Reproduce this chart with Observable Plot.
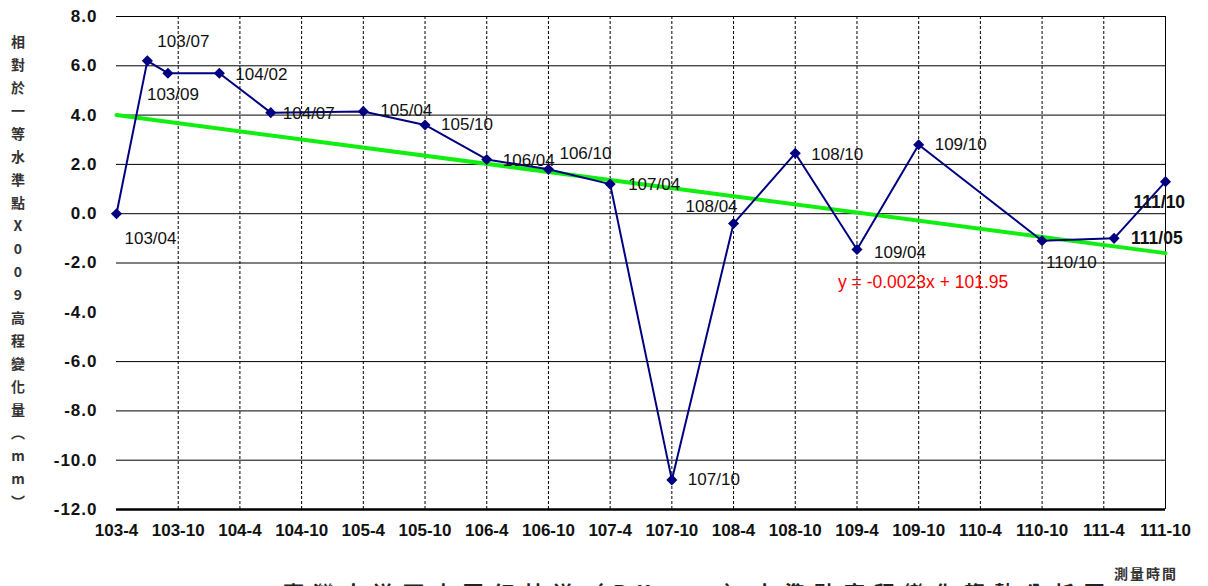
<!DOCTYPE html>
<html><head><meta charset="utf-8">
<script src="https://cdn.jsdelivr.net/npm/d3@7"></script>
<script src="https://cdn.jsdelivr.net/npm/@observablehq/plot@0.6"></script>
<style>
html,body{margin:0;padding:0;background:#fff;}
body{width:1208px;height:586px;overflow:hidden;position:relative;font-family:"Liberation Sans",Arial,sans-serif;}
#chart{position:absolute;left:0;top:0;}
#ytitle{position:absolute;left:8px;top:30px;width:20px;font-family:"Noto Sans CJK TC",sans-serif;font-weight:bold;font-size:14px;line-height:23px;color:#333;text-align:center;}
#ytitle span{display:block;height:23px;}
#xtitle{position:absolute;left:1114px;top:563px;font-family:"Noto Sans CJK TC",sans-serif;font-weight:bold;font-size:14px;color:#333;letter-spacing:2px;}
#caption{position:absolute;left:283px;top:577px;font-family:"Noto Sans CJK TC",sans-serif;font-weight:bold;font-size:21px;color:#222;letter-spacing:9px;white-space:nowrap;}
#eq{position:absolute;left:838px;top:272px;font-size:17.5px;color:#ff0000;white-space:nowrap;}
</style>
</head>
<body>
<div id="chart"></div>
<div id="ytitle"></div>
<div id="xtitle"></div>
<div id="caption"></div>
<div id="eq"></div>
<script>
// ---- data ----
const dates = ["103/04","103/07","103/09","104/02","104/07","105/04","105/10","106/04","106/10","107/04","107/10","108/04","108/10","109/04","109/10","110/10","111/05","111/10"];
const values = [0.0, 6.2, 5.7, 5.7, 4.1, 4.15, 3.6, 2.2, 1.8, 1.2, -10.8, -0.4, 2.45, -1.45, 2.8, -1.1, -1.0, 1.3];
const tickLabels = ["103-4","103-10","104-4","104-10","105-4","105-10","106-4","106-10","107-4","107-10","108-4","108-10","109-4","109-10","110-4","110-10","111-4","111-10"];
const yTicks = [-12, -10, -8, -6, -4, -2, 0, 2, 4, 6, 8];
const yGrid = [8, 6, 4, 2, 0, -2, -6, -8, -10];
const trendDates = ["103/04", "111/10"];
const trendValues = [4.0, -1.6];
const equation = "y = -0.0023x + 101.95";
const yTitle = ["相","對","於","一","等","水","準","點","X","0","0","9","高","程","變","化","量","︵","m","m","︶"];
const xTitle = "測量時間";
const caption = "臺灣大道西屯區紅林道（BK000）水準點高程變化趨勢分析圖";

// label placement (layout only)
const labelOffsets = [[8,25],[10,-19],[-21,21],[16,1],[12,1],[17,-1],[16,0],[16,1],[11,-16],[18,0],[16,0],[-48,-17],[16,1],[17,3],[16,0],[4,22],[17,0],[-32,21]];
const boldLabels = new Set(["111/05","111/10"]);

// ---- helpers ----
const toMonth = s => { const [a,b] = s.split(/[\/-]/).map(Number); return a*12 + b; };
const points = dates.map((d,i) => ({x: toMonth(d), y: values[i], label: d}));
const tickX = tickLabels.map(toMonth);
const trend = trendDates.map((d,i) => ({x: toMonth(d), y: trendValues[i]}));
const x0 = tickX[0], x1 = tickX[tickX.length-1];

const labelMarks = points.map((p,i) => Plot.text([p], {
  x: "x", y: "y", text: "label",
  dx: labelOffsets[i][0], dy: labelOffsets[i][1],
  textAnchor: "start", fontSize: boldLabels.has(p.label) ? 17.5 : 17,
  fontWeight: boldLabels.has(p.label) ? "bold" : "normal",
  fill: "#111"
}));

const chart = Plot.plot({
  width: 1208, height: 586,
  marginLeft: 116, marginRight: 43, marginTop: 16, marginBottom: 77,
  x: {type: "linear", domain: [x0, x1]},
  y: {domain: [-12, 8]},
  style: {fontFamily: "'Liberation Sans', Arial, sans-serif", background: "white", color: "#000"},
  marks: [
    Plot.ruleY(yGrid, {stroke: "#000", strokeWidth: 1}),
    Plot.ruleX(tickX.slice(1, -1), {stroke: "#000", strokeWidth: 1, strokeDasharray: "3,2"}),
    Plot.ruleX([x1], {stroke: "#000", strokeWidth: 1}),
    Plot.ruleY([-12], {stroke: "#000", strokeWidth: 2.5}),
    Plot.axisY({ticks: yTicks, tickFormat: d => d.toFixed(1), tickSize: 0, tickPadding: 19, fontSize: 17, fontWeight: "bold", label: null, fill: "#111"}),
    Plot.axisX({ticks: tickX, tickFormat: d => tickLabels[tickX.indexOf(d)], tickSize: 0, tickPadding: 14, fontSize: 17, fontWeight: "bold", label: null, fill: "#111"}),
    Plot.line(trend, {x: "x", y: "y", stroke: "#11ee11", strokeWidth: 4}),
    Plot.line(points, {x: "x", y: "y", stroke: "#000080", strokeWidth: 2}),
    Plot.dot(points, {x: "x", y: "y", symbol: "diamond2", r: 5, fill: "#000080", stroke: "none"}),
    ...labelMarks
  ]
});
document.getElementById("chart").appendChild(chart);
chart.querySelectorAll('g[aria-label="y-axis tick label"] text').forEach(t => t.style.letterSpacing = "1px");

const yt = document.getElementById("ytitle");
yTitle.forEach(c => { const s = document.createElement("span"); s.textContent = c; yt.appendChild(s); });
document.getElementById("xtitle").textContent = xTitle;
document.getElementById("caption").textContent = caption;
document.getElementById("eq").textContent = equation;
</script>
</body></html>
